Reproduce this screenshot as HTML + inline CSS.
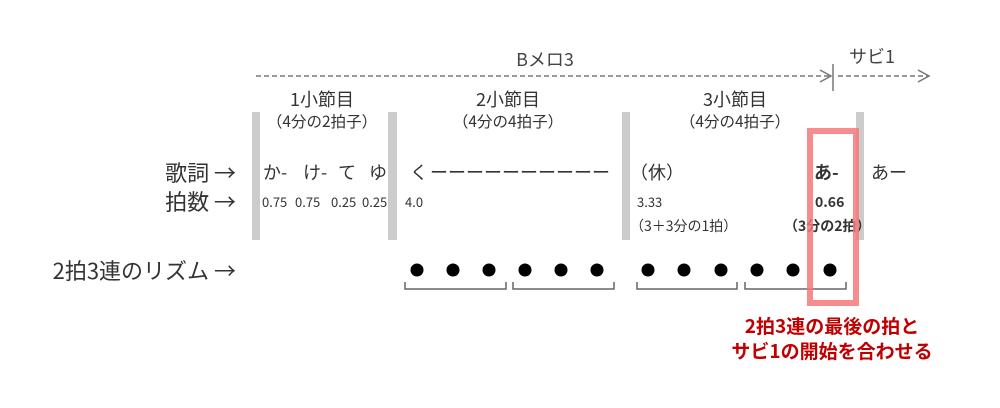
<!DOCTYPE html>
<html><head><meta charset="utf-8"><style>
html,body{margin:0;padding:0;background:#fff;}
svg{display:block;font-family:"Noto Sans CJK JP","Liberation Sans",sans-serif;}
</style></head><body>
<svg width="1000" height="408" viewBox="0 0 1000 408" xmlns="http://www.w3.org/2000/svg">
<g stroke="#777" stroke-width="1.5" fill="none">
<line x1="256" y1="76" x2="830" y2="76" stroke-dasharray="5,3"/>
<polyline points="820,70 831,76 820,82"/>
<line x1="833" y1="64" x2="833" y2="91"/>
<line x1="838" y1="76" x2="928" y2="76" stroke-dasharray="5,3"/>
<polyline points="918,70 929,76 918,82"/>
</g>
<g fill="#444" font-size="18">
<text x="545" y="66" text-anchor="middle">Bメロ3</text>
<text x="872" y="63" text-anchor="middle">サビ1</text>
</g>
<g fill="#ccc">
<rect x="252" y="112" width="8" height="128"/>
<rect x="388" y="112" width="9" height="128"/>
<rect x="622" y="112" width="8" height="128"/>
<rect x="856" y="112" width="8" height="128"/>
</g>
<g fill="#333" text-anchor="middle">
<text x="322" y="106" font-size="18">1小節目</text>
<text x="322" y="127" font-size="15.5">（4分の2拍子）</text>
<text x="508" y="106" font-size="18">2小節目</text>
<text x="508" y="127" font-size="15.5">（4分の4拍子）</text>
<text x="735" y="106" font-size="18">3小節目</text>
<text x="735" y="127" font-size="15.5">（4分の4拍子）</text>
</g>
<g fill="#333" font-size="22">
<text x="236" y="181" text-anchor="end">歌詞 →</text>
<text x="236" y="210" text-anchor="end">拍数 →</text>
<text x="236" y="279" text-anchor="end">2拍3連のリズム →</text>
</g>
<g fill="#333" font-size="18">
<text x="263" y="179">か-</text>
<text x="303" y="179">け-</text>
<text x="338" y="179">て</text>
<text x="369" y="179">ゆ</text>
<text x="410" y="179">く</text>
<text x="430" y="179" textLength="180" lengthAdjust="spacing">ーーーーーーーーーー</text>
<text x="630" y="179">（休）</text>
<text x="814" y="179" font-weight="bold">あ-</text>
<text x="871" y="179">あー</text>
</g>
<g fill="#333" font-size="13">
<text x="262" y="207">0.75</text>
<text x="295" y="207">0.75</text>
<text x="331" y="207">0.25</text>
<text x="362" y="207">0.25</text>
<text x="405" y="207">4.0</text>
<text x="637" y="207">3.33</text>
<text x="630" y="231" font-size="14">（3＋3分の1拍）</text>
<text x="815" y="207" font-weight="bold" font-size="14">0.66</text>
<text x="784" y="231" font-weight="bold" font-size="14">（3分の2拍）</text>
</g>
<g fill="#000">
<circle cx="417" cy="270" r="6.5"/><circle cx="453" cy="270" r="6.5"/><circle cx="489" cy="270" r="6.5"/>
<circle cx="525" cy="270" r="6.5"/><circle cx="561" cy="270" r="6.5"/><circle cx="597" cy="270" r="6.5"/>
<circle cx="648" cy="270" r="6.5"/><circle cx="684" cy="270" r="6.5"/><circle cx="721" cy="270" r="6.5"/>
<circle cx="757" cy="270" r="6.5"/><circle cx="793" cy="270" r="6.5"/><circle cx="830" cy="270" r="6.5"/>
</g>
<g stroke="#666" stroke-width="1.5" fill="none">
<polyline points="405,282 405,289 506,289 506,282"/>
<polyline points="513,282 513,289 614,289 614,282"/>
<polyline points="637,282 637,289 737,289 737,282"/>
<polyline points="745,282 745,289 846,289 846,282"/>
</g>
<rect x="810" y="131" width="46" height="172" fill="none" stroke="#f4787a" stroke-opacity="0.85" stroke-width="6"/>
<g fill="#c00000" font-size="19" font-weight="bold" text-anchor="middle">
<text x="832" y="333">2拍3連の最後の拍と</text>
<text x="832" y="358">サビ1の開始を合わせる</text>
</g>
</svg>
</body></html>
